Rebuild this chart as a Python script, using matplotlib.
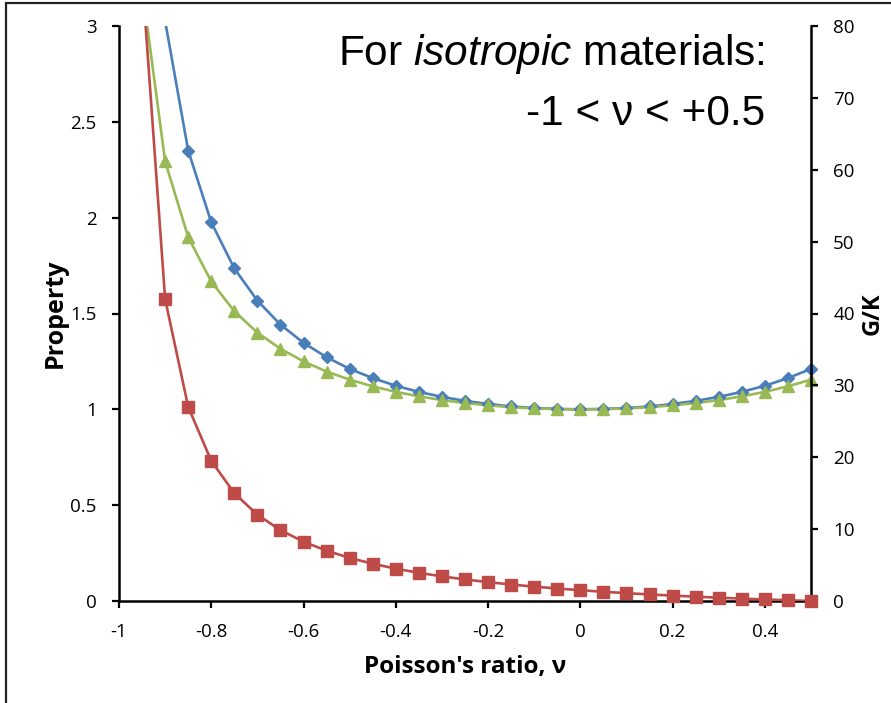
import matplotlib
matplotlib.use("Agg")
import matplotlib.pyplot as plt
import numpy as np
from matplotlib.patches import Rectangle

# Poisson's ratio values (data points, 0.05 steps)
nu = [-0.95, -0.9, -0.85, -0.8, -0.75, -0.7, -0.65, -0.6, -0.55, -0.5,
      -0.45, -0.4, -0.35, -0.3, -0.25, -0.2, -0.15, -0.1, -0.05, 0.0,
      0.05, 0.1, 0.15, 0.2, 0.25, 0.3, 0.35, 0.4, 0.45, 0.5]

# left axis series
blue = [4.72, 3.026, 2.35, 1.976, 1.735, 1.567, 1.442, 1.347, 1.272, 1.211,
        1.163, 1.123, 1.091, 1.065, 1.044, 1.028, 1.015, 1.007, 1.002, 1.0,
        1.002, 1.007, 1.015, 1.028, 1.044, 1.065, 1.091, 1.123, 1.163, 1.211]
green = [3.203, 2.294, 1.898, 1.667, 1.512, 1.400, 1.316, 1.25, 1.197, 1.155,
         1.120, 1.091, 1.068, 1.048, 1.033, 1.021, 1.011, 1.005, 1.001, 1.0,
         1.001, 1.005, 1.011, 1.021, 1.033, 1.048, 1.068, 1.091, 1.120, 1.155]
# right axis series (G/K)
red = [87.0, 42.0, 27.0, 19.5, 15.0, 12.0, 9.857, 8.25, 7.0, 6.0,
       5.182, 4.5, 3.923, 3.429, 3.0, 2.625, 2.294, 2.0, 1.737, 1.5,
       1.286, 1.091, 0.913, 0.75, 0.6, 0.462, 0.333, 0.214, 0.103, 0.0]

xticks = [-1, -0.8, -0.6, -0.4, -0.2, 0, 0.2, 0.4]
xticklabels = ["-1", "-0.8", "-0.6", "-0.4", "-0.2", "0", "0.2", "0.4"]
yticks_left = [0, 0.5, 1, 1.5, 2, 2.5, 3]
yticklabels_left = ["0", "0.5", "1", "1.5", "2", "2.5", "3"]
yticks_right = [0, 10, 20, 30, 40, 50, 60, 70, 80]

BLUE = "#4A7EBB"
RED = "#BE4B48"
GREEN = "#98B954"
tick_font = ["Open Sans", "DejaVu Sans"]

fig = plt.figure(figsize=(8.91, 7.03), dpi=100)
ax = fig.add_axes([119 / 891, 102 / 703, 692 / 891, 575 / 703])
ax2 = ax.twinx()

x = np.array(nu)


def draw(a, y, color, marker, ms, lo, hi):
    y = np.array(y)
    a.plot(x, y, color=color, lw=1.9, zorder=2)
    m = (y >= lo) & (y <= hi)
    a.plot(x[m], y[m], ls="none", marker=marker, ms=ms, color=color,
           mec=color, clip_on=False, zorder=3)


draw(ax, blue, BLUE, "D", 6.5, 0, 3)
draw(ax, green, GREEN, "^", 8.5, 0, 3)
draw(ax2, red, RED, "s", 8, 0, 80)

ax.set_xlim(-1, 0.5)
ax.set_ylim(0, 3)
ax2.set_ylim(0, 80)

ax.set_xticks(xticks)
ax.set_xticklabels(xticklabels, family=tick_font, fontsize=13.5)
ax.set_yticks(yticks_left)
ax.set_yticklabels(yticklabels_left, family=tick_font, fontsize=13.5)
ax2.set_yticks(yticks_right)
ax2.set_yticklabels([str(v) for v in yticks_right], family=tick_font,
                    fontsize=13.5)

for a in (ax, ax2):
    a.spines["top"].set_visible(False)
    for s in a.spines.values():
        s.set_linewidth(1.8)
    a.tick_params(width=1.6, length=5, direction="out", pad=11)
ax.spines["right"].set_visible(False)
ax2.spines["left"].set_visible(False)
ax2.spines["bottom"].set_visible(False)
ax.tick_params(axis="x", pad=11)

ax.set_xlabel("Poisson's ratio, ν", family=tick_font, fontsize=17.5,
              fontweight="bold", labelpad=10)
ax.set_ylabel("Property", family=tick_font, fontsize=18, fontweight="bold",
              labelpad=2)
ax2.set_ylabel("G/K", family=tick_font, fontsize=17, fontweight="bold",
               labelpad=4)

plt.rcParams["mathtext.fontset"] = "custom"
plt.rcParams["mathtext.rm"] = "Liberation Sans"
plt.rcParams["mathtext.it"] = "Liberation Sans:italic"
fig.text(765 / 891, (703 - 65) / 703, r"For $\mathit{isotropic}$ materials:",
         family="Liberation Sans", fontsize=30.5, ha="right", va="baseline")
fig.text(765 / 891, (703 - 125) / 703, "-1 < ν < +0.5",
         family="Liberation Sans", fontsize=30.5, ha="right", va="baseline")

# frame around the slide
fig.patches.append(Rectangle((6 / 891, -0.1), 1.2, (703 - 3) / 703 + 0.1,
                             transform=fig.transFigure, fill=False,
                             ec="#222222", lw=1.6))

fig.savefig("out.png", dpi=100)
